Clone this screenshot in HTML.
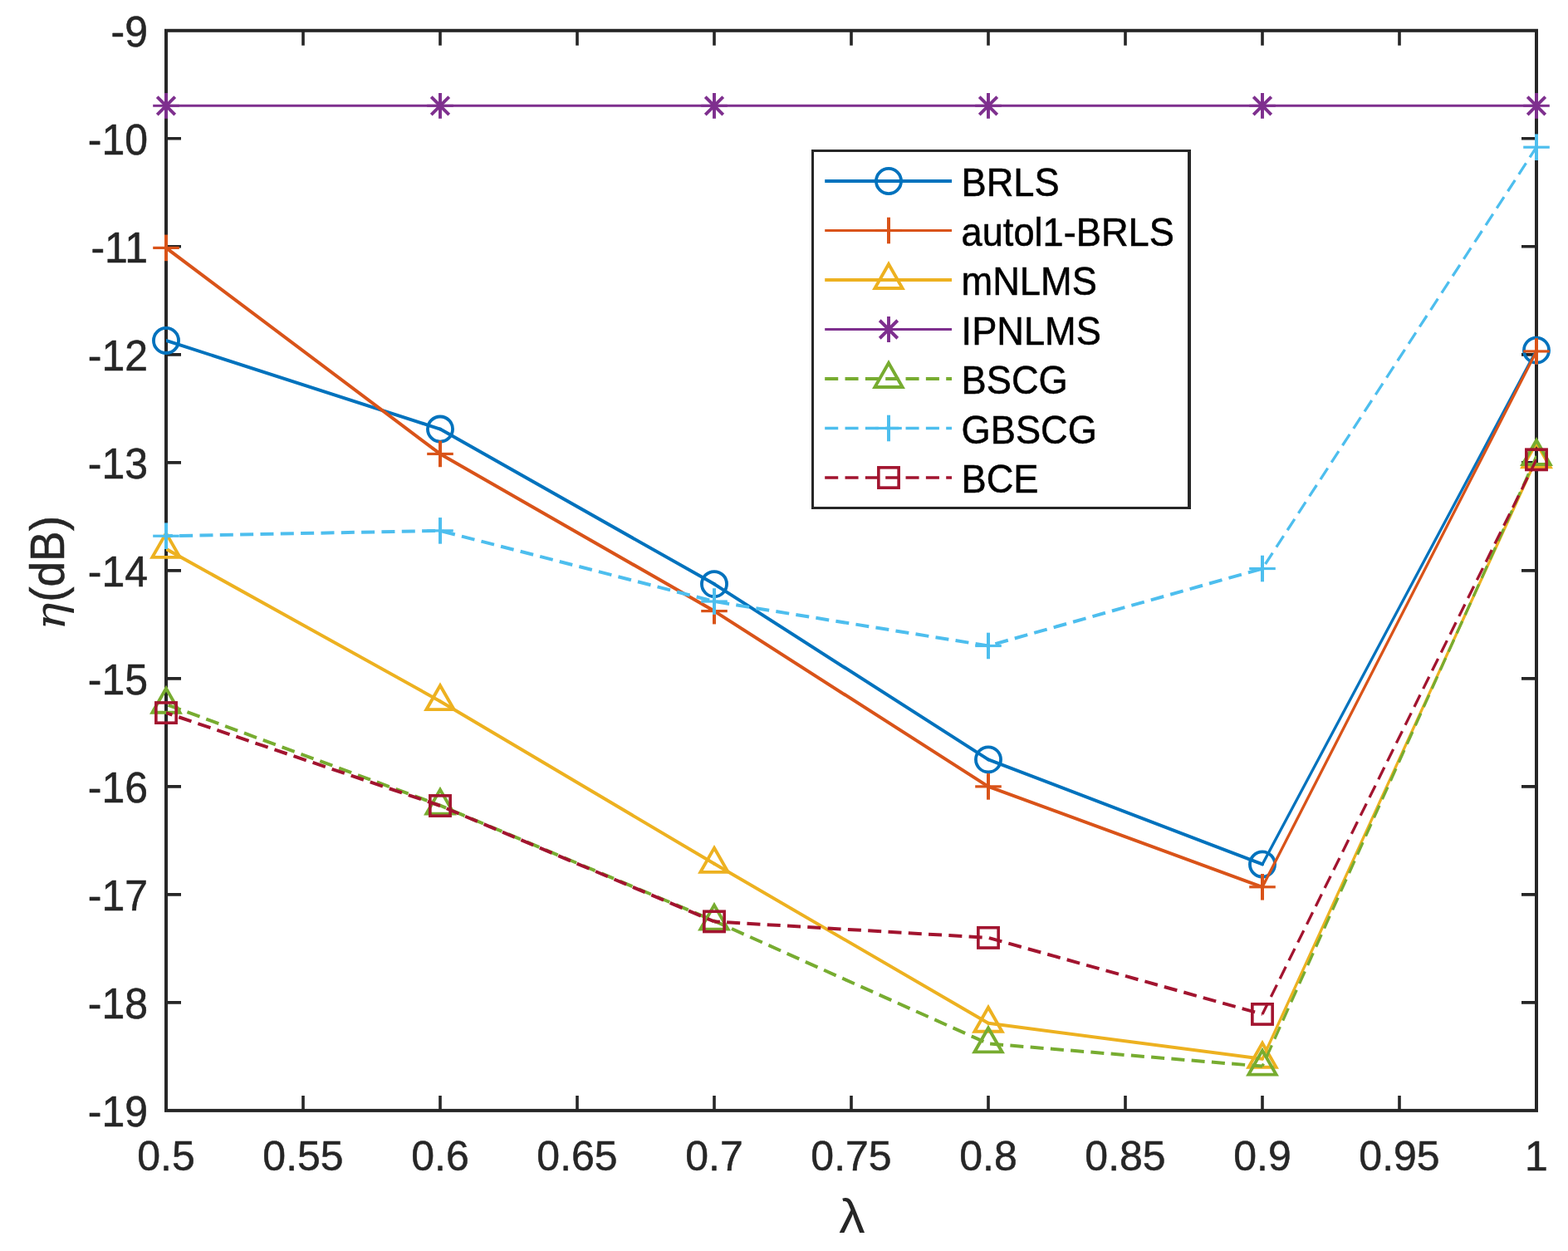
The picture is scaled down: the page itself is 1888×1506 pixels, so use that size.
<!DOCTYPE html>
<html lang="en"><head><meta charset="utf-8"><title>Plot</title>
<style>html,body{margin:0;padding:0;background:#fff}body{width:1888px;height:1506px;overflow:hidden}svg{display:block}</style>
</head><body>
<svg width="1888" height="1506" viewBox="0 0 1888 1506">
<defs><clipPath id="ax"><rect x="200.0" y="36.8" width="1650.0" height="1300.1000000000001"/></clipPath></defs>
<rect width="1888" height="1506" fill="#fff"/>
<g stroke="#262626" stroke-width="4.0" fill="none" stroke-linecap="square">
<rect x="200.0" y="36.8" width="1650.0" height="1300.1000000000001"/>
<path stroke-linecap="butt" stroke-width="3.6" d="M365.00 1336.9v-18.0M365.00 36.8v18.0M530.00 1336.9v-18.0M530.00 36.8v18.0M695.00 1336.9v-18.0M695.00 36.8v18.0M860.00 1336.9v-18.0M860.00 36.8v18.0M1025.00 1336.9v-18.0M1025.00 36.8v18.0M1190.00 1336.9v-18.0M1190.00 36.8v18.0M1355.00 1336.9v-18.0M1355.00 36.8v18.0M1520.00 1336.9v-18.0M1520.00 36.8v18.0M1685.00 1336.9v-18.0M1685.00 36.8v18.0M200.0 166.81h18.0M1850.0 166.81h-18.0M200.0 296.82h18.0M1850.0 296.82h-18.0M200.0 426.83h18.0M1850.0 426.83h-18.0M200.0 556.84h18.0M1850.0 556.84h-18.0M200.0 686.85h18.0M1850.0 686.85h-18.0M200.0 816.86h18.0M1850.0 816.86h-18.0M200.0 946.87h18.0M1850.0 946.87h-18.0M200.0 1076.88h18.0M1850.0 1076.88h-18.0M200.0 1206.89h18.0M1850.0 1206.89h-18.0"/>
</g>
<g font-family="'Liberation Sans', Arial, sans-serif" font-size="50" fill="#262626">
<text transform="translate(200.00 1409.30) scale(1 1.01)" font-size="50" text-anchor="middle" fill="#262626" stroke="#262626" stroke-width="0.5">0.5</text>
<text transform="translate(365.00 1409.30) scale(1 1.01)" font-size="50" text-anchor="middle" fill="#262626" stroke="#262626" stroke-width="0.5">0.55</text>
<text transform="translate(530.00 1409.30) scale(1 1.01)" font-size="50" text-anchor="middle" fill="#262626" stroke="#262626" stroke-width="0.5">0.6</text>
<text transform="translate(695.00 1409.30) scale(1 1.01)" font-size="50" text-anchor="middle" fill="#262626" stroke="#262626" stroke-width="0.5">0.65</text>
<text transform="translate(860.00 1409.30) scale(1 1.01)" font-size="50" text-anchor="middle" fill="#262626" stroke="#262626" stroke-width="0.5">0.7</text>
<text transform="translate(1025.00 1409.30) scale(1 1.01)" font-size="50" text-anchor="middle" fill="#262626" stroke="#262626" stroke-width="0.5">0.75</text>
<text transform="translate(1190.00 1409.30) scale(1 1.01)" font-size="50" text-anchor="middle" fill="#262626" stroke="#262626" stroke-width="0.5">0.8</text>
<text transform="translate(1355.00 1409.30) scale(1 1.01)" font-size="50" text-anchor="middle" fill="#262626" stroke="#262626" stroke-width="0.5">0.85</text>
<text transform="translate(1520.00 1409.30) scale(1 1.01)" font-size="50" text-anchor="middle" fill="#262626" stroke="#262626" stroke-width="0.5">0.9</text>
<text transform="translate(1685.00 1409.30) scale(1 1.01)" font-size="50" text-anchor="middle" fill="#262626" stroke="#262626" stroke-width="0.5">0.95</text>
<text transform="translate(1850.00 1409.30) scale(1 1.01)" font-size="50" text-anchor="middle" fill="#262626" stroke="#262626" stroke-width="0.5">1</text>
<text transform="translate(178.00 56.30) scale(1 1.025)" font-size="50" text-anchor="end" fill="#262626" stroke="#262626" stroke-width="0.5">-9</text>
<text transform="translate(178.00 186.31) scale(1 1.025)" font-size="50" text-anchor="end" fill="#262626" stroke="#262626" stroke-width="0.5">-10</text>
<text transform="translate(178.00 316.32) scale(1 1.025)" font-size="50" text-anchor="end" fill="#262626" stroke="#262626" stroke-width="0.5">-11</text>
<text transform="translate(178.00 446.33) scale(1 1.025)" font-size="50" text-anchor="end" fill="#262626" stroke="#262626" stroke-width="0.5">-12</text>
<text transform="translate(178.00 576.34) scale(1 1.025)" font-size="50" text-anchor="end" fill="#262626" stroke="#262626" stroke-width="0.5">-13</text>
<text transform="translate(178.00 706.35) scale(1 1.025)" font-size="50" text-anchor="end" fill="#262626" stroke="#262626" stroke-width="0.5">-14</text>
<text transform="translate(178.00 836.36) scale(1 1.025)" font-size="50" text-anchor="end" fill="#262626" stroke="#262626" stroke-width="0.5">-15</text>
<text transform="translate(178.00 966.37) scale(1 1.025)" font-size="50" text-anchor="end" fill="#262626" stroke="#262626" stroke-width="0.5">-16</text>
<text transform="translate(178.00 1096.38) scale(1 1.025)" font-size="50" text-anchor="end" fill="#262626" stroke="#262626" stroke-width="0.5">-17</text>
<text transform="translate(178.00 1226.39) scale(1 1.025)" font-size="50" text-anchor="end" fill="#262626" stroke="#262626" stroke-width="0.5">-18</text>
<text transform="translate(178.00 1356.40) scale(1 1.025)" font-size="50" text-anchor="end" fill="#262626" stroke="#262626" stroke-width="0.5">-19</text>
</g>
<text transform="translate(1026.0 1483.8) scale(1.115 1.025)" text-anchor="middle" font-family="'Liberation Sans', Arial, sans-serif" font-size="56.2" fill="#262626">λ</text>
<text transform="translate(76.9 724.8) rotate(-90) scale(1 1.06)" font-family="'Liberation Sans', Arial, sans-serif" font-size="55" fill="#262626" stroke="#262626" stroke-width="0.5">(dB)</text>
<text transform="translate(77.8 725.5) rotate(-90) scale(1.09 1)" text-anchor="end" font-family="'DejaVu Serif', 'Liberation Serif', serif" font-style="italic" font-size="51" fill="#262626">η</text>
<g>
<g clip-path="url(#ax)" fill="none" stroke="#0072BD" stroke-linecap="round">
<path d="M200.00 409.93L530.00 516.54" stroke-width="4.0"/>
<path d="M530.00 516.54L860.00 703.10" stroke-width="4.0"/>
<path d="M860.00 703.10L1190.00 914.37" stroke-width="4.0"/>
<path d="M1190.00 914.37L1520.00 1040.48" stroke-width="4.0"/>
<path d="M1520.00 1040.48L1850.00 421.63" stroke-width="3.3"/>
</g>
<circle cx="200.00" cy="409.93" r="15.05" stroke="#0072BD" stroke-width="3.8" fill="none"/>
<circle cx="530.00" cy="516.54" r="15.05" stroke="#0072BD" stroke-width="3.8" fill="none"/>
<circle cx="860.00" cy="703.10" r="15.05" stroke="#0072BD" stroke-width="3.8" fill="none"/>
<circle cx="1190.00" cy="914.37" r="15.05" stroke="#0072BD" stroke-width="3.8" fill="none"/>
<circle cx="1520.00" cy="1040.48" r="15.05" stroke="#0072BD" stroke-width="3.8" fill="none"/>
<circle cx="1850.00" cy="421.63" r="15.05" stroke="#0072BD" stroke-width="3.8" fill="none"/>
</g>
<g>
<g clip-path="url(#ax)" fill="none" stroke="#D95319" stroke-linecap="round">
<path d="M200.00 298.38L530.00 546.44" stroke-width="4.0"/>
<path d="M530.00 546.44L860.00 735.60" stroke-width="4.0"/>
<path d="M860.00 735.60L1190.00 946.87" stroke-width="4.0"/>
<path d="M1190.00 946.87L1520.00 1067.78" stroke-width="4.0"/>
<path d="M1520.00 1067.78L1850.00 422.93" stroke-width="3.3"/>
</g>
<path d="M184.20 298.38H215.80" stroke="#D95319" stroke-width="3.2" fill="none"/><path d="M200.00 282.58V314.18" stroke="#D95319" stroke-width="4.0" fill="none"/>
<path d="M514.20 546.44H545.80" stroke="#D95319" stroke-width="3.2" fill="none"/><path d="M530.00 530.64V562.24" stroke="#D95319" stroke-width="4.0" fill="none"/>
<path d="M844.20 735.60H875.80" stroke="#D95319" stroke-width="3.2" fill="none"/><path d="M860.00 719.80V751.40" stroke="#D95319" stroke-width="4.0" fill="none"/>
<path d="M1174.20 946.87H1205.80" stroke="#D95319" stroke-width="3.2" fill="none"/><path d="M1190.00 931.07V962.67" stroke="#D95319" stroke-width="4.0" fill="none"/>
<path d="M1504.20 1067.78H1535.80" stroke="#D95319" stroke-width="3.2" fill="none"/><path d="M1520.00 1051.98V1083.58" stroke="#D95319" stroke-width="4.0" fill="none"/>
<path d="M1834.20 422.93H1865.80" stroke="#D95319" stroke-width="3.2" fill="none"/><path d="M1850.00 407.13V438.73" stroke="#D95319" stroke-width="4.0" fill="none"/>
</g>
<g>
<g clip-path="url(#ax)" fill="none" stroke="#EDB120" stroke-linecap="round">
<path d="M200.00 660.85L530.00 844.16" stroke-width="4.0"/>
<path d="M530.00 844.16L860.00 1039.83" stroke-width="4.0"/>
<path d="M860.00 1039.83L1190.00 1231.72" stroke-width="4.0"/>
<path d="M1190.00 1231.72L1520.00 1274.76" stroke-width="4.0"/>
<path d="M1520.00 1274.76L1850.00 552.29" stroke-width="3.3"/>
</g>
<path d="M200.00 641.85L216.60 670.85H183.40Z" stroke="#EDB120" stroke-width="3.9" fill="none" stroke-linejoin="miter"/>
<path d="M530.00 825.16L546.60 854.16H513.40Z" stroke="#EDB120" stroke-width="3.9" fill="none" stroke-linejoin="miter"/>
<path d="M860.00 1020.83L876.60 1049.83H843.40Z" stroke="#EDB120" stroke-width="3.9" fill="none" stroke-linejoin="miter"/>
<path d="M1190.00 1212.72L1206.60 1241.72H1173.40Z" stroke="#EDB120" stroke-width="3.9" fill="none" stroke-linejoin="miter"/>
<path d="M1520.00 1255.76L1536.60 1284.76H1503.40Z" stroke="#EDB120" stroke-width="3.9" fill="none" stroke-linejoin="miter"/>
<path d="M1850.00 533.29L1866.60 562.29H1833.40Z" stroke="#EDB120" stroke-width="3.9" fill="none" stroke-linejoin="miter"/>
</g>
<g>
<g clip-path="url(#ax)" fill="none" stroke="#7E2F8E" stroke-linecap="round">
<path d="M200.00 127.29L530.00 127.29" stroke-width="3.0"/>
<path d="M530.00 127.29L860.00 127.29" stroke-width="3.0"/>
<path d="M860.00 127.29L1190.00 127.29" stroke-width="3.0"/>
<path d="M1190.00 127.29L1520.00 127.29" stroke-width="3.0"/>
<path d="M1520.00 127.29L1850.00 127.29" stroke-width="3.0"/>
</g>
<path d="M184.20 127.29H215.80" stroke="#7E2F8E" stroke-width="3.0" fill="none"/><path d="M200.00 111.89V142.69M189.25 116.54L210.75 138.03M189.25 138.03L210.75 116.54" stroke="#7E2F8E" stroke-width="3.9" fill="none"/>
<path d="M514.20 127.29H545.80" stroke="#7E2F8E" stroke-width="3.0" fill="none"/><path d="M530.00 111.89V142.69M519.25 116.54L540.75 138.03M519.25 138.03L540.75 116.54" stroke="#7E2F8E" stroke-width="3.9" fill="none"/>
<path d="M844.20 127.29H875.80" stroke="#7E2F8E" stroke-width="3.0" fill="none"/><path d="M860.00 111.89V142.69M849.25 116.54L870.75 138.03M849.25 138.03L870.75 116.54" stroke="#7E2F8E" stroke-width="3.9" fill="none"/>
<path d="M1174.20 127.29H1205.80" stroke="#7E2F8E" stroke-width="3.0" fill="none"/><path d="M1190.00 111.89V142.69M1179.25 116.54L1200.75 138.03M1179.25 138.03L1200.75 116.54" stroke="#7E2F8E" stroke-width="3.9" fill="none"/>
<path d="M1504.20 127.29H1535.80" stroke="#7E2F8E" stroke-width="3.0" fill="none"/><path d="M1520.00 111.89V142.69M1509.25 116.54L1530.75 138.03M1509.25 138.03L1530.75 116.54" stroke="#7E2F8E" stroke-width="3.9" fill="none"/>
<path d="M1834.20 127.29H1865.80" stroke="#7E2F8E" stroke-width="3.0" fill="none"/><path d="M1850.00 111.89V142.69M1839.25 116.54L1860.75 138.03M1839.25 138.03L1860.75 116.54" stroke="#7E2F8E" stroke-width="3.9" fill="none"/>
</g>
<g>
<g clip-path="url(#ax)" fill="none" stroke="#77AC30" stroke-linecap="butt">
<path d="M200.00 847.80L530.00 969.62" stroke-width="4.0" stroke-dasharray="16.03 8.305" stroke-dashoffset="21.54"/>
<path d="M530.00 969.62L860.00 1108.60" stroke-width="4.0" stroke-dasharray="16.03 8.305" stroke-dashoffset="8.28"/>
<path d="M860.00 1108.60L1190.00 1256.42" stroke-width="4.0" stroke-dasharray="16.03 8.305" stroke-dashoffset="1.32"/>
<path d="M1190.00 1256.42L1520.00 1283.60" stroke-width="4.0" stroke-dasharray="16.03 8.305" stroke-dashoffset="22.23"/>
<path d="M1520.00 1283.60L1850.00 549.04" stroke-width="3.3" stroke-dasharray="16.03 8.305" stroke-dashoffset="12.66"/>
</g>
<path d="M200.00 828.80L216.60 857.80H183.40Z" stroke="#77AC30" stroke-width="3.9" fill="none" stroke-linejoin="miter"/>
<path d="M530.00 950.62L546.60 979.62H513.40Z" stroke="#77AC30" stroke-width="3.9" fill="none" stroke-linejoin="miter"/>
<path d="M860.00 1089.60L876.60 1118.60H843.40Z" stroke="#77AC30" stroke-width="3.9" fill="none" stroke-linejoin="miter"/>
<path d="M1190.00 1237.42L1206.60 1266.42H1173.40Z" stroke="#77AC30" stroke-width="3.9" fill="none" stroke-linejoin="miter"/>
<path d="M1520.00 1264.60L1536.60 1293.60H1503.40Z" stroke="#77AC30" stroke-width="3.9" fill="none" stroke-linejoin="miter"/>
<path d="M1850.00 530.04L1866.60 559.04H1833.40Z" stroke="#77AC30" stroke-width="3.9" fill="none" stroke-linejoin="miter"/>
</g>
<g>
<g clip-path="url(#ax)" fill="none" stroke="#4DBEEE" stroke-linecap="butt">
<path d="M200.00 645.25L530.00 638.88" stroke-width="4.0" stroke-dasharray="16.03 8.305" stroke-dashoffset="8.20"/>
<path d="M530.00 638.88L860.00 724.03" stroke-width="4.0" stroke-dasharray="16.03 8.305" stroke-dashoffset="21.91"/>
<path d="M860.00 724.03L1190.00 777.47" stroke-width="4.0" stroke-dasharray="16.03 8.305" stroke-dashoffset="22.03"/>
<path d="M1190.00 777.47L1520.00 684.51" stroke-width="4.0" stroke-dasharray="16.03 8.305" stroke-dashoffset="15.63"/>
<path d="M1520.00 684.51L1850.00 177.21" stroke-width="3.3" stroke-dasharray="16.03 8.305" stroke-dashoffset="17.79"/>
</g>
<path d="M184.20 645.25H215.80" stroke="#4DBEEE" stroke-width="3.2" fill="none"/><path d="M200.00 629.45V661.05" stroke="#4DBEEE" stroke-width="4.0" fill="none"/>
<path d="M514.20 638.88H545.80" stroke="#4DBEEE" stroke-width="3.2" fill="none"/><path d="M530.00 623.08V654.68" stroke="#4DBEEE" stroke-width="4.0" fill="none"/>
<path d="M844.20 724.03H875.80" stroke="#4DBEEE" stroke-width="3.2" fill="none"/><path d="M860.00 708.23V739.83" stroke="#4DBEEE" stroke-width="4.0" fill="none"/>
<path d="M1174.20 777.47H1205.80" stroke="#4DBEEE" stroke-width="3.2" fill="none"/><path d="M1190.00 761.67V793.27" stroke="#4DBEEE" stroke-width="4.0" fill="none"/>
<path d="M1504.20 684.51H1535.80" stroke="#4DBEEE" stroke-width="3.2" fill="none"/><path d="M1520.00 668.71V700.31" stroke="#4DBEEE" stroke-width="4.0" fill="none"/>
<path d="M1834.20 177.21H1865.80" stroke="#4DBEEE" stroke-width="3.2" fill="none"/><path d="M1850.00 161.41V193.01" stroke="#4DBEEE" stroke-width="4.0" fill="none"/>
</g>
<g>
<g clip-path="url(#ax)" fill="none" stroke="#A2142F" stroke-linecap="butt">
<path d="M200.00 858.07L530.00 970.01" stroke-width="4.0" stroke-dasharray="16.03 8.305" stroke-dashoffset="8.20"/>
<path d="M530.00 970.01L860.00 1109.38" stroke-width="4.0" stroke-dasharray="16.03 8.305" stroke-dashoffset="15.98"/>
<path d="M860.00 1109.38L1190.00 1128.88" stroke-width="4.0" stroke-dasharray="16.03 8.305" stroke-dashoffset="9.18"/>
<path d="M1190.00 1128.88L1520.00 1220.93" stroke-width="4.0" stroke-dasharray="16.03 8.305" stroke-dashoffset="23.40"/>
<path d="M1520.00 1220.93L1850.00 553.33" stroke-width="3.3" stroke-dasharray="16.03 8.305" stroke-dashoffset="0.97"/>
</g>
<rect x="187.85" y="845.92" width="24.30" height="24.30" stroke="#A2142F" stroke-width="3.6" fill="none"/>
<rect x="517.85" y="957.86" width="24.30" height="24.30" stroke="#A2142F" stroke-width="3.6" fill="none"/>
<rect x="847.85" y="1097.23" width="24.30" height="24.30" stroke="#A2142F" stroke-width="3.6" fill="none"/>
<rect x="1177.85" y="1116.73" width="24.30" height="24.30" stroke="#A2142F" stroke-width="3.6" fill="none"/>
<rect x="1507.85" y="1208.78" width="24.30" height="24.30" stroke="#A2142F" stroke-width="3.6" fill="none"/>
<rect x="1837.85" y="541.18" width="24.30" height="24.30" stroke="#A2142F" stroke-width="3.6" fill="none"/>
</g>
<rect x="977" y="180" width="457" height="433" fill="#262626"/><rect x="980" y="183" width="450" height="427" fill="#fff"/>
<g font-family="'Liberation Sans', Arial, sans-serif" font-size="45.4" fill="#000">
<path d="M993.2 218.0H1146" stroke="#0072BD" stroke-width="4.0" fill="none"/>
<circle cx="1070.00" cy="218.00" r="15.05" stroke="#0072BD" stroke-width="3.8" fill="none"/>
<text transform="translate(1157.60 236.20) scale(1 1.05)" font-size="45.2" text-anchor="start" fill="#000" stroke="#000" stroke-width="0.5">BRLS</text>
<path d="M993.2 277.5H1146" stroke="#D95319" stroke-width="3.2" fill="none"/>
<path d="M1054.20 277.50H1085.80" stroke="#D95319" stroke-width="3.2" fill="none"/><path d="M1070.00 261.70V293.30" stroke="#D95319" stroke-width="4.0" fill="none"/>
<text transform="translate(1157.60 295.70) scale(1 1.05)" font-size="45.2" text-anchor="start" fill="#000" stroke="#000" stroke-width="0.5">autol1-BRLS</text>
<path d="M993.2 337.0H1146" stroke="#EDB120" stroke-width="4.0" fill="none"/>
<path d="M1070.00 318.00L1086.60 347.00H1053.40Z" stroke="#EDB120" stroke-width="3.9" fill="none" stroke-linejoin="miter"/>
<text transform="translate(1157.60 355.20) scale(1 1.05)" font-size="45.2" text-anchor="start" fill="#000" stroke="#000" stroke-width="0.5">mNLMS</text>
<path d="M993.2 396.5H1146" stroke="#7E2F8E" stroke-width="3.2" fill="none"/>
<path d="M1054.20 396.50H1085.80" stroke="#7E2F8E" stroke-width="3.0" fill="none"/><path d="M1070.00 381.10V411.90M1059.25 385.75L1080.75 407.25M1059.25 407.25L1080.75 385.75" stroke="#7E2F8E" stroke-width="3.9" fill="none"/>
<text transform="translate(1157.60 414.70) scale(1 1.05)" font-size="45.2" text-anchor="start" fill="#000" stroke="#000" stroke-width="0.5">IPNLMS</text>
<path d="M993.2 456.0H1146" stroke="#77AC30" stroke-width="4.1" fill="none" stroke-dasharray="16.03 8.305"/>
<path d="M1070.00 437.00L1086.60 466.00H1053.40Z" stroke="#77AC30" stroke-width="3.9" fill="none" stroke-linejoin="miter"/>
<text transform="translate(1157.60 474.20) scale(1 1.05)" font-size="45.2" text-anchor="start" fill="#000" stroke="#000" stroke-width="0.5">BSCG</text>
<path d="M993.2 515.5H1146" stroke="#4DBEEE" stroke-width="3.4" fill="none" stroke-dasharray="16.03 8.305"/>
<path d="M1054.20 515.50H1085.80" stroke="#4DBEEE" stroke-width="3.2" fill="none"/><path d="M1070.00 499.70V531.30" stroke="#4DBEEE" stroke-width="4.0" fill="none"/>
<text transform="translate(1157.60 533.70) scale(1 1.05)" font-size="45.2" text-anchor="start" fill="#000" stroke="#000" stroke-width="0.5">GBSCG</text>
<path d="M993.2 575.0H1146" stroke="#A2142F" stroke-width="3.5" fill="none" stroke-dasharray="16.03 8.305"/>
<rect x="1057.85" y="562.85" width="24.30" height="24.30" stroke="#A2142F" stroke-width="3.6" fill="none"/>
<text transform="translate(1157.60 593.20) scale(1 1.05)" font-size="45.2" text-anchor="start" fill="#000" stroke="#000" stroke-width="0.5">BCE</text>
</g>
</svg>
</body></html>
